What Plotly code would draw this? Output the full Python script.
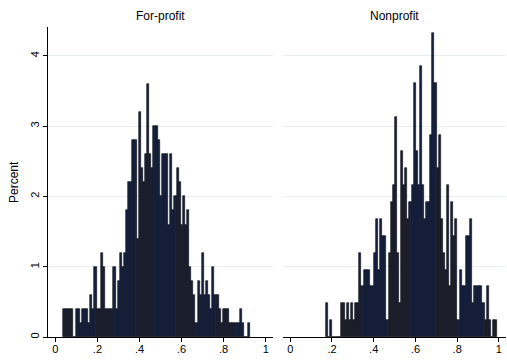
import plotly.graph_objects as go

# ---- data (percent per bin) ----
bin_width = 0.01
forprofit_start = 0.036
nonprofit_start = 0.171

forprofit_pct = [
    0.4, 0.4, 0.4, 0.4, 0.4, 0.0, 0.4, 0.4, 0.2, 0.4,
    0.4, 0.4, 0.2, 0.6, 0.4, 1.0, 0.4, 0.4, 1.2, 1.0,
    0.4, 0.4, 0.4, 0.4, 1.0, 0.4, 0.8, 1.2, 1.0, 1.2,
    1.8, 2.2, 2.2, 2.8, 2.8, 1.4, 3.2, 2.4, 2.2, 2.6,
    3.6, 2.6, 2.4, 3.0, 3.0, 2.8, 2.0, 2.6, 2.6, 2.6,
    1.6, 2.6, 1.8, 2.0, 2.4, 2.2, 1.6, 2.0, 1.6, 1.8,
    1.0, 0.8, 0.6, 0.2, 0.8, 0.6, 1.2, 0.6, 0.8, 0.6,
    0.4, 1.0, 0.6, 0.6, 0.4, 0.2, 0.4, 0.4, 0.4, 0.2,
    0.2, 0.2, 0.2, 0.2, 0.4, 0.2, 0.0, 0.0, 0.2,
]

nonprofit_pct = [
    0.48, 0.00, 0.24, 0.00, 0.00, 0.00, 0.00, 0.48, 0.48, 0.24,
    0.48, 0.24, 0.48, 0.24, 0.48, 0.48, 1.20, 0.72, 0.96, 0.96,
    0.96, 0.72, 0.72, 1.20, 1.68, 0.96, 1.68, 1.44, 1.44, 0.24,
    1.20, 1.92, 2.16, 3.13, 1.20, 0.48, 2.64, 2.16, 2.40, 1.68,
    1.92, 2.16, 3.61, 2.64, 2.16, 3.85, 2.16, 1.68, 1.92, 1.92,
    2.88, 4.33, 3.61, 2.40, 2.88, 1.68, 1.20, 0.96, 2.16, 0.72,
    1.92, 1.44, 1.68, 0.24, 0.96, 0.72, 0.72, 1.44, 1.44, 1.68,
    0.48, 0.72, 0.72, 0.72, 0.72, 0.48, 0.24, 0.72, 0.24, 0.00,
    0.24, 0.24,
]

panel_titles = ["For-profit", "Nonprofit"]
x_tickvals = [0, 0.2, 0.4, 0.6, 0.8, 1]
x_ticktext = ["0", ".2", ".4", ".6", ".8", "1"]
y_tickvals = [0, 1, 2, 3, 4]
y_ticktext = ["0", "1", "2", "3", "4"]

FILL = "#17223f"
EDGE = "#0a0a10"
GRID = "#e6eff1"
FONT = "Liberation Sans, Arial, sans-serif"


def centers(start, n):
    return [start + bin_width * (i + 0.5) for i in range(n)]


fig = go.Figure()
fig.add_trace(go.Bar(
    x=centers(forprofit_start, len(forprofit_pct)), y=forprofit_pct,
    width=bin_width, marker=dict(color=FILL, line=dict(color=EDGE, width=0.6)),
    xaxis="x", yaxis="y", showlegend=False, hoverinfo="skip"))
fig.add_trace(go.Bar(
    x=centers(nonprofit_start, len(nonprofit_pct)), y=nonprofit_pct,
    width=bin_width, marker=dict(color=FILL, line=dict(color=EDGE, width=0.6)),
    xaxis="x2", yaxis="y2", showlegend=False, hoverinfo="skip"))

xr = [-0.035, 1.034]
yr = [0, 4.41]
common_x = dict(range=xr, tickvals=x_tickvals, ticktext=x_ticktext,
                showline=True, linecolor="#000000", linewidth=1,
                ticks="outside", ticklen=4, tickcolor="#000000",
                showgrid=False, zeroline=False, automargin=False,
                ticklabelstandoff=-2,
                tickfont=dict(family=FONT, size=11, color="#000000"))
fig.update_layout(
    width=507, height=360,
    margin=dict(l=48, r=1, t=27, b=23),
    paper_bgcolor="white", plot_bgcolor="white",
    bargap=0,
    xaxis=dict(domain=[0.0, 0.491], anchor="y", **common_x),
    xaxis2=dict(domain=[0.513, 1.0], anchor="y2", **common_x),
    yaxis=dict(range=yr, tickvals=y_tickvals, ticktext=y_ticktext,
               showline=True, linecolor="#000000", linewidth=1,
               ticks="outside", ticklen=4, tickcolor="#000000",
               tickangle=-90, showgrid=True, gridcolor=GRID, gridwidth=1,
               zeroline=False, anchor="x", automargin=False,
               tickfont=dict(family=FONT, size=11, color="#000000")),
    yaxis2=dict(range=yr, tickvals=y_tickvals, showticklabels=False,
                showline=False, ticks="", showgrid=True, gridcolor=GRID,
                gridwidth=1, zeroline=False, anchor="x2", matches="y"),
    annotations=[
        dict(text=panel_titles[0], xref="paper", yref="paper",
             x=0.2455, y=1, xanchor="center", yanchor="middle", yshift=11,
             showarrow=False, font=dict(family=FONT, size=12, color="#000000")),
        dict(text=panel_titles[1], xref="paper", yref="paper",
             x=0.7565, y=1, xanchor="center", yanchor="middle", yshift=11,
             showarrow=False, font=dict(family=FONT, size=12, color="#000000")),
        dict(text="Percent", xref="paper", yref="paper", x=0, y=0.5,
             xanchor="center", yanchor="middle", xshift=-34, textangle=-90,
             showarrow=False, font=dict(family=FONT, size=12, color="#000000")),
    ],
)

fig.write_html("out.html", config={"displayModeBar": False},
               post_script="document.body.style.margin='0';document.body.style.overflow='hidden';")
